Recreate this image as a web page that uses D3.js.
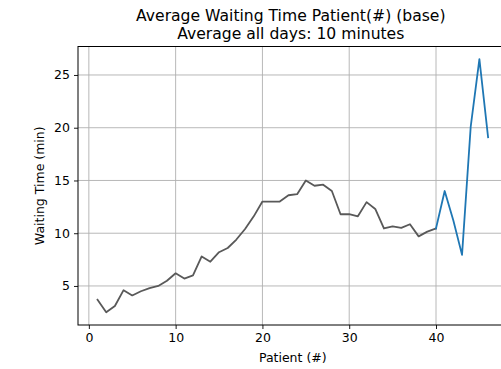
<!DOCTYPE html>
<html>
<head>
<meta charset="utf-8">
<script src="https://cdn.jsdelivr.net/npm/d3@7"></script>
<style>
  html, body { margin: 0; padding: 0; background: #fff; }
  svg { display: block; font-family: "DejaVu Sans", sans-serif; }
</style>
</head>
<body>
<svg id="chart" width="501" height="369"></svg>
<script>
// Average waiting time per patient number (minutes)
const patients = d3.range(1, 47);
const waitBase = [3.7, 2.5, 3.1, 4.6, 4.1, 4.5, 4.8, 5.0, 5.5, 6.2,
                  5.7, 6.0, 7.8, 7.3, 8.2, 8.6, 9.4, 10.4, 11.6, 13.0,
                  13.0, 13.0, 13.6, 13.7, 15.0, 14.5, 14.6, 14.0, 11.8, 11.8,
                  11.6, 12.95, 12.3, 10.45, 10.65, 10.5, 10.85, 9.7, 10.15, 10.45];
const waitLate = [10.45, 14.0, 11.2, 7.95, 20.1, 26.5, 19.1];
const xTicks = [0, 10, 20, 30, 40];
const yTicks = [5, 10, 15, 20, 25];
const titleLines = ["Average Waiting Time Patient(#) (base)", "Average all days: 10 minutes"];

const baseSeries = waitBase.map((v, i) => ({x: patients[i], y: v}));
const lateSeries = waitLate.map((v, i) => ({x: patients[39 + i], y: v}));

const svg = d3.select("#chart");
const plotL = 78, plotR = 507.6, plotT = 46.5, plotB = 325;

// matplotlib-like 5% margins around the data range
const xs = d3.scaleLinear().domain([-1.25, 48.25]).range([plotL, plotR]);
const allY = waitBase.concat(waitLate);
const yMin = d3.min(allY), yMax = d3.max(allY), pad = (yMax - yMin) * 0.05;
const ys = d3.scaleLinear().domain([yMin - pad, yMax + pad]).range([plotB, plotT]);

// grid
const grid = svg.append("g").attr("stroke", "#b0b0b0").attr("stroke-width", 0.9);
xTicks.forEach(t => grid.append("line").attr("x1", xs(t)).attr("x2", xs(t)).attr("y1", plotT).attr("y2", plotB));
yTicks.forEach(t => grid.append("line").attr("x1", plotL).attr("x2", plotR).attr("y1", ys(t)).attr("y2", ys(t)));

// lines
const line = d3.line().x(d => xs(d.x)).y(d => ys(d.y));
svg.append("path").datum(baseSeries).attr("d", line)
  .attr("fill", "none").attr("stroke", "#595959").attr("stroke-width", 1.8)
  .attr("stroke-linejoin", "round").attr("stroke-linecap", "square");
svg.append("path").datum(lateSeries).attr("d", line)
  .attr("fill", "none").attr("stroke", "#1f77b4").attr("stroke-width", 1.8)
  .attr("stroke-linejoin", "round").attr("stroke-linecap", "square");

// axes
const xAxis = d3.axisBottom(xs).tickValues(xTicks).tickSize(4).tickPadding(4);
const yAxis = d3.axisLeft(ys).tickValues(yTicks).tickSize(4).tickPadding(4);
const gx = svg.append("g").attr("transform", `translate(0,${plotB})`).call(xAxis);
const gy = svg.append("g").attr("transform", `translate(${plotL},0)`).call(yAxis);
[gx, gy].forEach(g => {
  g.select(".domain").remove();
  g.selectAll("line").attr("stroke", "#000").attr("stroke-width", 0.9);
  g.selectAll("text").attr("fill", "#000").attr("font-size", 12.5)
    .attr("font-family", "DejaVu Sans, sans-serif");
});

// spines
const sp = svg.append("g").attr("stroke", "#000").attr("stroke-width", 1).attr("fill", "none");
sp.append("rect").attr("x", plotL).attr("y", plotT).attr("width", plotR - plotL).attr("height", plotB - plotT);

// labels
svg.append("text").attr("x", (plotL + plotR) / 2).attr("y", 362)
  .attr("text-anchor", "middle").attr("font-size", 12.5).text("Patient (#)");
svg.append("text").attr("transform", `translate(44,${(plotT + plotB) / 2}) rotate(-90)`)
  .attr("text-anchor", "middle").attr("font-size", 12.5).text("Waiting Time (min)");

// title
svg.append("g").selectAll("text").data(titleLines).join("text")
  .attr("x", (plotL + plotR) / 2 - 2).attr("y", (d, i) => 21 + i * 18)
  .attr("text-anchor", "middle").attr("font-size", 15.6).text(d => d);
</script>
</body>
</html>
